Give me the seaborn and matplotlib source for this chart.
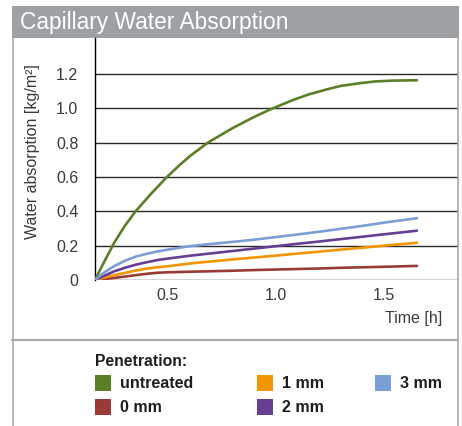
import matplotlib
matplotlib.use("Agg")
import matplotlib.pyplot as plt
from matplotlib.patches import Rectangle
from matplotlib.lines import Line2D
import seaborn as sns
import pandas as pd

# ---------------- data ----------------
title = "Capillary Water Absorption"
y_label = "Water absorption [kg/m\u00b2]"
x_label = "Time [h]"
legend_title = "Penetration:"

series_names = ["untreated", "0 mm", "1 mm", "2 mm", "3 mm"]
series_colors = ["#5b7f27", "#9b3b37", "#f39400", "#663f95", "#7b9fd5"]

green_t = [0.162, 0.20, 0.25, 0.30, 0.35, 0.42, 0.494, 0.55, 0.602, 0.685,
           0.80, 0.90, 0.977, 1.079, 1.15, 1.236, 1.30, 1.389, 1.46, 1.542,
           1.653]
green_y = [0.0, 0.095, 0.215, 0.315, 0.40, 0.50, 0.598, 0.665, 0.722, 0.80,
           0.885, 0.95, 0.995, 1.048, 1.08, 1.11, 1.13, 1.146, 1.156, 1.161,
           1.163]

common_t = [0.162, 0.20, 0.25, 0.30, 0.35, 0.40, 0.45, 0.50, 0.60, 0.70, 0.80,
            0.90, 1.00, 1.10, 1.20, 1.30, 1.40, 1.50, 1.653]
red_y = [0.0, 0.005, 0.012, 0.020, 0.028, 0.036, 0.042, 0.045, 0.048, 0.051,
         0.054, 0.058, 0.061, 0.064, 0.067, 0.071, 0.074, 0.077, 0.082]
orange_y = [0.0, 0.012, 0.028, 0.041, 0.055, 0.066, 0.074, 0.080, 0.096, 0.108,
            0.120, 0.131, 0.142, 0.154, 0.165, 0.177, 0.188, 0.200, 0.217]
purple_y = [0.0, 0.022, 0.050, 0.071, 0.089, 0.103, 0.116, 0.125, 0.141, 0.155,
            0.169, 0.183, 0.197, 0.211, 0.224, 0.238, 0.252, 0.266, 0.287]
blue_y = [0.0, 0.040, 0.080, 0.112, 0.136, 0.152, 0.166, 0.177, 0.197, 0.210,
          0.222, 0.235, 0.250, 0.265, 0.281, 0.298, 0.315, 0.334, 0.360]

y_ticks = [0, 0.2, 0.4, 0.6, 0.8, 1.0, 1.2]
y_tick_labels = ["0", "0.2", "0.4", "0.6", "0.8", "1.0", "1.2"]
x_ticks = [0.5, 1.0, 1.5]
x_tick_labels = ["0.5", "1.0", "1.5"]

# ---------------- build table ----------------
frames = [pd.DataFrame({"t": green_t, "y": green_y, "s": series_names[0]})]
for name, vals in zip(series_names[1:], [red_y, orange_y, purple_y, blue_y]):
    frames.append(pd.DataFrame({"t": common_t, "y": vals, "s": name}))
df = pd.concat(frames, ignore_index=True)

# ---------------- figure ----------------
sns.set_style("white")
plt.rcParams["font.family"] = ["Liberation Sans", "DejaVu Sans"]

W, H = 462, 426
fig = plt.figure(figsize=(W / 100, H / 100), dpi=100)

def fx(px):
    return px / W

def fy(py):
    return 1 - py / H

# axes in pixel layout: left 95, right 458, top 38, bottom 280
ax = fig.add_axes([fx(95), fy(280), fx(458) - fx(95), fy(38) - fy(280)])
ax.set_xlim(0.162, 1.843)
ax.set_ylim(0, 1.409)

for yt in y_ticks:
    ax.axhline(yt, color="#2a2a2a", lw=1.0, zorder=1)

palette = dict(zip(series_names, series_colors))
sns.lineplot(data=df, x="t", y="y", hue="s", palette=palette, lw=1.9,
             legend=False, ax=ax, zorder=3, sort=False, estimator=None)
for ln in ax.get_lines():
    ln.set_solid_joinstyle("round")

for side in ["top", "right", "bottom"]:
    ax.spines[side].set_visible(False)
ax.spines["left"].set_color("black")
ax.spines["left"].set_linewidth(1.0)

ax.set_yticks(y_ticks)
ax.set_yticklabels(y_tick_labels)
ax.set_xticks(x_ticks)
ax.set_xticklabels(x_tick_labels)
ax.tick_params(axis="both", length=0, labelsize=11.5, labelcolor="#3a3a3a")
ax.tick_params(axis="y", pad=12)
ax.tick_params(axis="x", pad=6)
ax.set_xlabel("")
ax.set_ylabel("")

# axis titles
fig.text(fx(442), fy(318), x_label, ha="right", va="center",
         fontsize=11.5, color="#3a3a3a")
fig.text(fx(33), fy(152), y_label, ha="center", va="center", rotation=90,
         fontsize=11.5, color="#3a3a3a")

# title bar and panel borders
fig.add_artist(Rectangle((fx(12), fy(38)), fx(459) - fx(12), fy(6) - fy(38),
                         facecolor="#9ea1a4", edgecolor="none", zorder=0))
fig.text(fx(20), fy(22), title, ha="left", va="center", fontsize=16.4,
         color="white")
border = "#a9a9a9"
fig.add_artist(Line2D([fx(12.5), fx(12.5)], [fy(38), fy(426)], color=border, lw=1.2))
fig.add_artist(Line2D([fx(457.5), fx(457.5)], [fy(38), fy(426)], color=border, lw=1.2))
fig.add_artist(Line2D([fx(12), fx(458)], [fy(339.5), fy(339.5)], color=border, lw=1.6))

# legend
fig.text(fx(95), fy(362), legend_title, ha="left", va="center",
         fontsize=11.3, fontweight="bold", color="#1e1e1e")
col_x = [95, 257, 375]
row_y = [383, 407]
for i, (name, col) in enumerate(zip(series_names, series_colors)):
    c, r = i // 2, i % 2
    x0, yc = col_x[c], row_y[r]
    fig.add_artist(Rectangle((fx(x0), fy(yc + 8)), fx(16), 16 / H,
                             facecolor=col, edgecolor="none"))
    fig.text(fx(x0 + 25), fy(yc), name, ha="left", va="center",
             fontsize=11.5, fontweight="bold", color="#1e1e1e")

fig.savefig("out.png", dpi=100)
